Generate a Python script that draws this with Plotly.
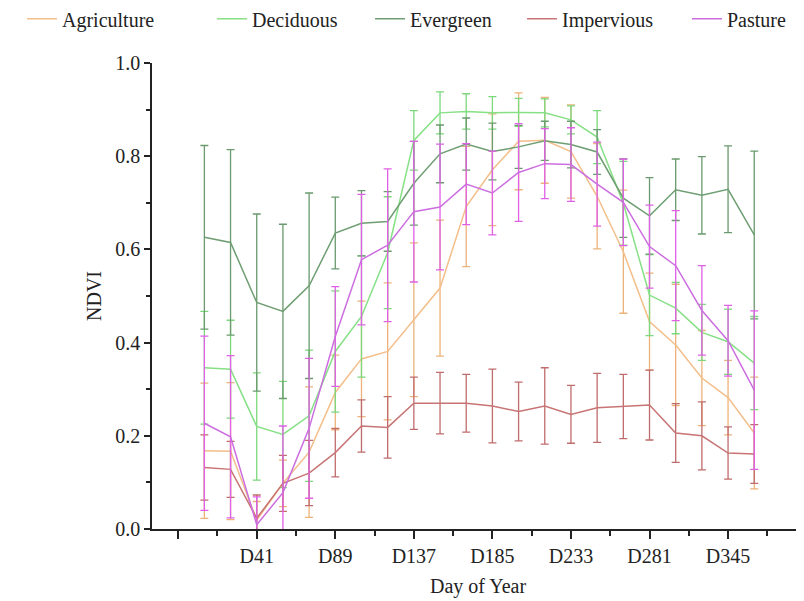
import plotly.graph_objects as go

# x positions are 16-day composite slots; labels every third slot
n_points = 22
x_idx = list(range(n_points))
tick_positions = [-1, 2, 5, 8, 11, 14, 17, 20]
tick_labels = ["", "D41", "D89", "D137", "D185", "D233", "D281", "D345"]
minor_positions = [0.5, 3.5, 6.5, 9.5, 12.5, 15.5, 18.5, 21.5]

agri = [0.168, 0.167, 0.019, 0.098, 0.165, 0.293, 0.365, 0.381, 0.449, 0.517, 0.692,
        0.771, 0.832, 0.834, 0.810, 0.714, 0.595, 0.445, 0.395, 0.324, 0.282, 0.206]
agri_err = [0.145, 0.147, 0.04, 0.05, 0.14, 0.08, 0.124, 0.147, 0.165, 0.146, 0.129,
            0.12, 0.104, 0.092, 0.10, 0.113, 0.132, 0.104, 0.13, 0.102, 0.08, 0.12]

decid = [0.346, 0.343, 0.220, 0.203, 0.243, 0.381, 0.456, 0.593, 0.834, 0.893, 0.896,
         0.893, 0.894, 0.893, 0.878, 0.841, 0.699, 0.502, 0.474, 0.422, 0.402, 0.356]
decid_err = [0.121, 0.105, 0.115, 0.114, 0.141, 0.13, 0.13, 0.12, 0.064, 0.045, 0.038,
             0.035, 0.03, 0.03, 0.03, 0.057, 0.09, 0.087, 0.055, 0.06, 0.07, 0.10]

everg = [0.626, 0.615, 0.486, 0.467, 0.522, 0.635, 0.656, 0.660, 0.742, 0.805, 0.826,
         0.810, 0.820, 0.833, 0.825, 0.809, 0.710, 0.672, 0.728, 0.716, 0.729, 0.631]
everg_err = [0.197, 0.199, 0.19, 0.187, 0.199, 0.077, 0.07, 0.064, 0.09, 0.062, 0.056,
             0.061, 0.046, 0.042, 0.05, 0.048, 0.084, 0.082, 0.066, 0.083, 0.093, 0.18]

imperv = [0.132, 0.128, 0.023, 0.098, 0.120, 0.164, 0.221, 0.218, 0.270, 0.270, 0.270,
          0.264, 0.252, 0.264, 0.246, 0.260, 0.263, 0.266, 0.206, 0.200, 0.163, 0.161]
imperv_err = [0.07, 0.06, 0.05, 0.06, 0.07, 0.052, 0.056, 0.066, 0.056, 0.066, 0.062,
              0.079, 0.063, 0.082, 0.062, 0.074, 0.069, 0.075, 0.063, 0.073, 0.056, 0.063]

pasture = [0.227, 0.198, 0.009, 0.078, 0.216, 0.413, 0.578, 0.609, 0.681, 0.691, 0.740,
           0.721, 0.765, 0.784, 0.782, 0.740, 0.701, 0.606, 0.565, 0.469, 0.404, 0.298]
pasture_err = [0.187, 0.174, 0.06, 0.143, 0.15, 0.107, 0.14, 0.164, 0.151, 0.135, 0.087,
               0.09, 0.105, 0.075, 0.079, 0.09, 0.093, 0.089, 0.118, 0.096, 0.076, 0.17]

series = [
    ("Agriculture", agri, agri_err, "#F3BE8A", "#EDB27A"),
    ("Deciduous", decid, decid_err, "#86E086", "#7BD87B"),
    ("Evergreen", everg, everg_err, "#6E9E72", "#6A9A6E"),
    ("Impervious", imperv, imperv_err, "#C87474", "#C06C6C"),
    ("Pasture", pasture, pasture_err, "#CC6EE0", "#E060E6"),
]

FONT = "Liberation Serif, Times New Roman, serif"
legend_ids = ["legend", "legend2", "legend3", "legend4", "legend5"]
legend_px = [14, 204, 362, 514, 679]

fig = go.Figure()
for (name, vals, errs, lc, ec), lid in zip(series, legend_ids):
    fig.add_trace(go.Scatter(
        x=x_idx, y=vals, name=name, mode="lines", legend=lid,
        line=dict(color=lc, width=1.5),
        error_y=dict(type="data", array=errs, visible=True, color=ec,
                     thickness=1.3, width=4),
    ))

legend_layout = {}
for lid, px in zip(legend_ids, legend_px):
    legend_layout[lid] = dict(
        orientation="h", xref="container", yref="container",
        x=px / 804, y=0.982, xanchor="left", yanchor="middle",
        font=dict(size=20, family=FONT, color="#222222"),
        bgcolor="rgba(0,0,0,0)", itemwidth=30)

fig.update_layout(
    width=804, height=601,
    margin=dict(l=144, r=8, t=55, b=80, autoexpand=False),
    paper_bgcolor="white", plot_bgcolor="white",
    font=dict(family=FONT, color="#222222"),
    showlegend=True,
    **legend_layout,
    xaxis=dict(
        range=[-2, 22.9], tickmode="array", tickvals=tick_positions,
        ticktext=tick_labels, ticks="outside", ticklen=8, tickwidth=1.5,
        tickcolor="#222222", showline=True, linecolor="#222222", linewidth=1.5,
        showgrid=False, zeroline=False,
        tickfont=dict(size=20, family=FONT, color="#222222"),
        minor=dict(tickmode="array", tickvals=minor_positions, ticks="outside",
                   ticklen=5, tickwidth=1.5, tickcolor="#222222", showgrid=False),
        title=dict(text="Day of Year", font=dict(size=20, family=FONT, color="#222222"),
                   standoff=13),
    ),
    yaxis=dict(
        range=[0, 1.0], tickmode="array", tickvals=[0, 0.2, 0.4, 0.6, 0.8, 1.0],
        ticktext=["0.0", "0.2", "0.4", "0.6", "0.8", "1.0"],
        ticks="outside", ticklen=6, tickwidth=1.5, tickcolor="#222222",
        showline=True, linecolor="#222222", linewidth=1.5,
        showgrid=False, zeroline=False,
        tickfont=dict(size=20, family=FONT, color="#222222"),
        minor=dict(tickmode="array", tickvals=[0.1, 0.3, 0.5, 0.7, 0.9],
                   ticks="outside", ticklen=4, tickwidth=1.5, tickcolor="#222222",
                   showgrid=False),
        title=dict(text="NDVI", font=dict(size=20, family=FONT, color="#222222"),
                   standoff=8),
    ),
)

fig.write_html("out.html")
